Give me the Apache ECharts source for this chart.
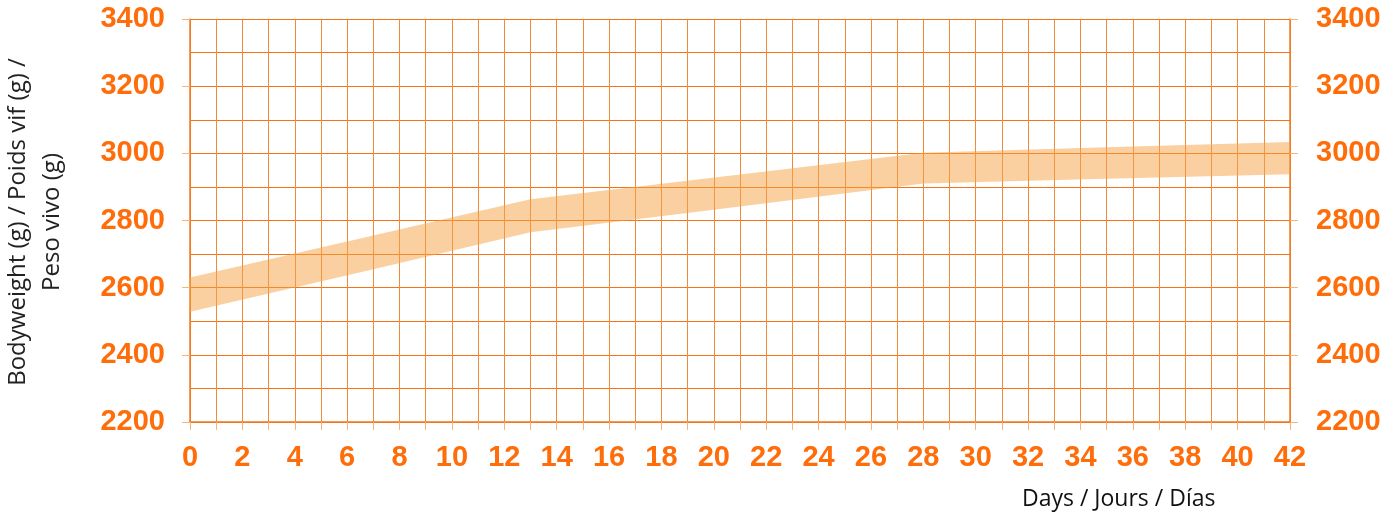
<!DOCTYPE html>
<html>
<head>
<meta charset="utf-8">
<script src="https://cdn.jsdelivr.net/npm/echarts@6/dist/echarts.min.js"></script>
<style>
html,body{margin:0;padding:0;background:#fff;}
#c{width:1398px;height:520px;}
</style>
</head>
<body>
<div id="c"></div>
<script>
// Data
var days = [0, 7, 13, 21, 28, 35, 42];
var upperWeight = [2630, 2755, 2863, 2937, 3002, 3018, 3034];
var lowerWeight = [2528, 2655, 2765, 2842, 2910, 2924, 2938];
var yTickLabels = [2200, 2400, 2600, 2800, 3000, 3200, 3400];
var xTickLabels = [0, 2, 4, 6, 8, 10, 12, 14, 16, 18, 20, 22, 24, 26, 28, 30, 32, 34, 36, 38, 40, 42];
var yAxisTitle = 'Bodyweight (g) / Poids vif (g) /\nPeso vivo (g)';
var xAxisTitle = 'Days / Jours / Días';

var ORANGE = '#ff6d0a';
var GRID = '#f28a3c';
var HGRID = '#f77214';
var AXIS = '#f07a20';
var TICK = '#f7b27a';

var bandData = days.map(function (d, i) { return [d, lowerWeight[i], upperWeight[i]]; });

var labelStyle = {
  color: ORANGE,
  fontFamily: 'Liberation Sans, Arial, sans-serif',
  fontWeight: 'bold',
  fontSize: 29
};
function yLabelFmt(v) { return yTickLabels.indexOf(v) >= 0 ? String(v) : ''; }

var chart = echarts.init(document.getElementById('c'), null, {renderer: 'canvas'});
chart.setOption({
  animation: false,
  grid: {left: 190, right: 108, top: 19, bottom: 98, containLabel: false},
  xAxis: {
    type: 'value',
    min: 0, max: 42, interval: 1,
    axisLine: {show: true, lineStyle: {color: AXIS, width: 1.5}},
    axisTick: {show: true, length: 8, lineStyle: {color: TICK}},
    axisLabel: Object.assign({}, labelStyle, {
      margin: 21,
      formatter: function (v) { return xTickLabels.indexOf(v) >= 0 ? String(v) : ''; }
    }),
    splitLine: {show: true, lineStyle: {color: GRID, width: 1}}
  },
  yAxis: [{
    // grid lines every 100 g plus labels
    type: 'value',
    position: 'left',
    min: 2200, max: 3400, interval: 100,
    axisLine: {show: true, onZero: false, lineStyle: {color: AXIS, width: 1.5}},
    axisTick: {show: false},
    axisLabel: Object.assign({}, labelStyle, {margin: 25, formatter: yLabelFmt}),
    splitLine: {show: true, lineStyle: {color: HGRID, width: 1}}
  }, {
    type: 'value',
    position: 'right',
    min: 2200, max: 3400, interval: 200,
    axisLine: {show: true, onZero: false, lineStyle: {color: AXIS, width: 1.5}},
    axisTick: {show: true, length: 8, lineStyle: {color: TICK}},
    axisLabel: Object.assign({}, labelStyle, {margin: 26, formatter: yLabelFmt}),
    splitLine: {show: false}
  }, {
    // left ticks every 200 g
    type: 'value',
    position: 'left',
    offset: 0,
    min: 2200, max: 3400, interval: 200,
    axisLine: {show: false, onZero: false},
    axisTick: {show: true, length: 8, lineStyle: {color: TICK}},
    axisLabel: {show: false},
    splitLine: {show: false}
  }],
  graphic: [{
    type: 'text',
    x: 35, y: 222,
    rotation: Math.PI / 2,
    style: {
      text: yAxisTitle,
      fill: '#222',
      font: '24px "Open Sans", sans-serif',
      textAlign: 'center',
      textVerticalAlign: 'middle',
      lineHeight: 34
    }
  }, {
    type: 'text',
    x: 1022, y: 488,
    style: {
      text: xAxisTitle,
      fill: '#111',
      font: '23px "Open Sans", sans-serif'
    }
  }],
  series: [{
    type: 'custom',
    silent: true,
    data: bandData,
    encode: {x: 0, y: [1, 2]},
    clip: true,
    renderItem: function (params, api) {
      if (params.dataIndex !== 0) { return null; }
      var pts = [];
      var i;
      for (i = 0; i < days.length; i++) {
        pts.push(api.coord([days[i], upperWeight[i]]));
      }
      for (i = days.length - 1; i >= 0; i--) {
        pts.push(api.coord([days[i], lowerWeight[i]]));
      }
      return {
        type: 'polygon',
        shape: {points: pts},
        style: {fill: 'rgba(245,161,65,0.5)', stroke: null}
      };
    }
  }]
});
</script>
</body>
</html>
